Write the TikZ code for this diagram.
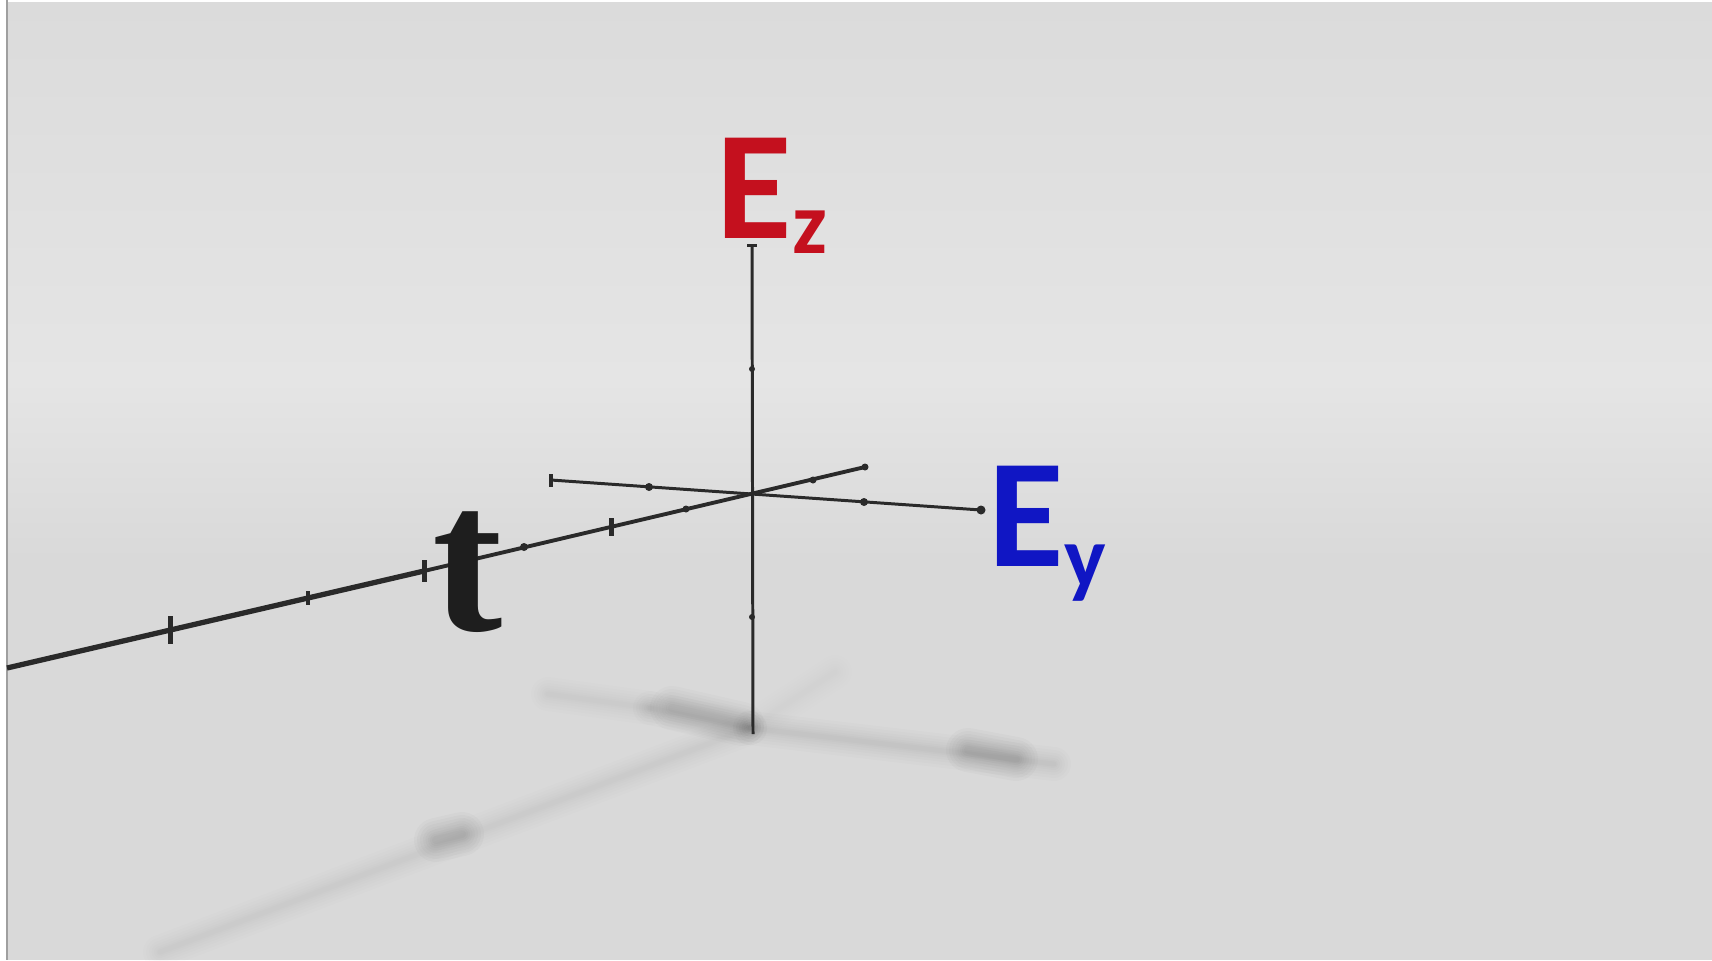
\documentclass[tikz,border=0pt]{standalone}
\usepackage{fontspec}
\usepackage{tikz}
\usetikzlibrary{
    positioning,
    calc
}
\newfontfamily\lblfont{Carlito}
\newfontfamily\tfont{Liberation Serif}
\definecolor{ezRed}{RGB}{196,16,30}
\definecolor{eyBlue}{RGB}{16,22,196}
\definecolor{axGray}{RGB}{42,42,42}
\definecolor{tBlack}{RGB}{30,30,30}
\definecolor{bgTop}{RGB}{219,219,219}
\definecolor{bgHor}{RGB}{229,229,229}
\definecolor{bgFloor}{RGB}{217,217,217}
\tikzset{
  axisln/.style = {draw=axGray, line width=0.85pt},
  tdot/.style   = {circle, fill=axGray, inner sep=0pt, minimum size=0.07cm},
  tbar/.style   = {rectangle, fill=axGray, inner sep=0pt,
                   minimum width=0.045cm, minimum height=#1},
  tbar/.default = 0.14cm,
  lbl/.style    = {anchor=base west, inner sep=0pt,
                   font=\lblfont\bfseries\fontsize{44}{44}\selectfont}
}
% #1 opacity step, #2 path
\newcommand{\softline}[2]{%
  \foreach \w in {0.34,0.28,0.22,0.17,0.12,0.08,0.05}
    {\draw[black, opacity=#1, line width=\w cm, line cap=round] #2;}}
\newcommand{\softblob}[2]{%
  \foreach \w in {0.44,0.38,0.32,0.26,0.21,0.16,0.12,0.08}
    {\draw[black, opacity=#1, line width=\w cm, line cap=round] #2;}}

\begin{document}
\begin{tikzpicture}[x=0.01cm, y=-0.01cm]
\useasboundingbox (0,0) rectangle (1712,960);

% backdrop
\fill[white] (0,0) rectangle (1712,960);
\shade[top color=bgTop, bottom color=bgHor] (6,2) rectangle (1712,380);
\shade[top color=bgHor, bottom color=bgFloor] (6,380) rectangle (1712,560);
\fill[bgFloor] (6,560) rectangle (1712,960);
\draw[gray!75, line width=0.7pt] (7,0) -- (7,960);

% axis points
\coordinate (O) at (752,494);
\coordinate (zTop) at (752,245);
\coordinate (zBot) at (753,734);
\coordinate (yL) at (551,480);
\coordinate (yR) at (981,510);
\coordinate (tNear) at (7,668);
\coordinate (tMid) at (424,571);
\coordinate (tFar) at (865,467);

% shadows on the floor
\coordinate (sO) at (750,728);
\coordinate (sYL) at (548,694);
\coordinate (sYM) at (650,708);
\coordinate (sYR) at (1054,764);
\coordinate (sTF) at (835,672);
\coordinate (sTN) at (160,952);
\softline{0.007}{(sYL) -- (sYM)}
\softline{0.012}{(sYM) -- (sO)}
\softline{0.010}{(sO) -- (sYR)}
\softline{0.005}{(sTF) -- (sO)}
\softline{0.009}{(sO) -- (sTN)}
\softblob{0.014}{(672,708) -- (742,724)}
\softblob{0.018}{(968,750) -- (1016,759)}
\softblob{0.018}{(436,840) -- (462,834)}

% axes
\draw[axisln] (zTop) -- (zBot);
\draw[axisln] (yL) -- (yR);
\draw[axisln, line width=1.5pt] (tNear) -- (tMid);
\draw[axisln, line width=1.1pt] (tMid) -- (tFar);

% ticks on E_z
\node[tbar=0.03cm, minimum width=0.10cm] (zCap) at (zTop) {};
\node[tdot, minimum size=0.06cm] (z1) at (752,369) {};
\node[tdot, minimum size=0.06cm] (z2) at (752,617) {};

% ticks on E_y
\node[tbar=0.13cm] (yCap) at (yL) {};
\node[tdot, minimum size=0.08cm] (y1) at (649,487) {};
\node[tdot, minimum size=0.08cm] (y2) at (864,502) {};
\node[tdot, minimum size=0.09cm] (yEnd) at (yR) {};

% ticks on t
\node[tbar=0.28cm, minimum width=0.05cm] (t1) at (170,630) {};
\node[tbar=0.14cm] (t2) at (308,598) {};
\node[tbar=0.22cm, minimum width=0.05cm] (t3) at (tMid) {};
\node[tdot, minimum size=0.08cm] (t4) at (524,547) {};
\node[tbar=0.18cm, minimum width=0.05cm] (t5) at (611,527) {};
\node[tdot] (t6) at (686,509) {};
\node[tdot] (t7) at (813,480) {};
\node[tdot] (tEnd) at (tFar) {};

% labels
\node[lbl, text=ezRed] (Ez) at (716,238)
    {E\raisebox{-4.3pt}{\fontsize{25}{25}\selectfont z}};
\node[lbl, text=eyBlue] (Ey) at (988,566)
    {E\raisebox{-6pt}{\fontsize{25}{25}\selectfont y}};
\node[anchor=base west, inner sep=0pt, text=tBlack,
      font=\tfont\bfseries\fontsize{60}{60}\selectfont] (tLbl) at (432,630) {t};

\end{tikzpicture}
\end{document}
